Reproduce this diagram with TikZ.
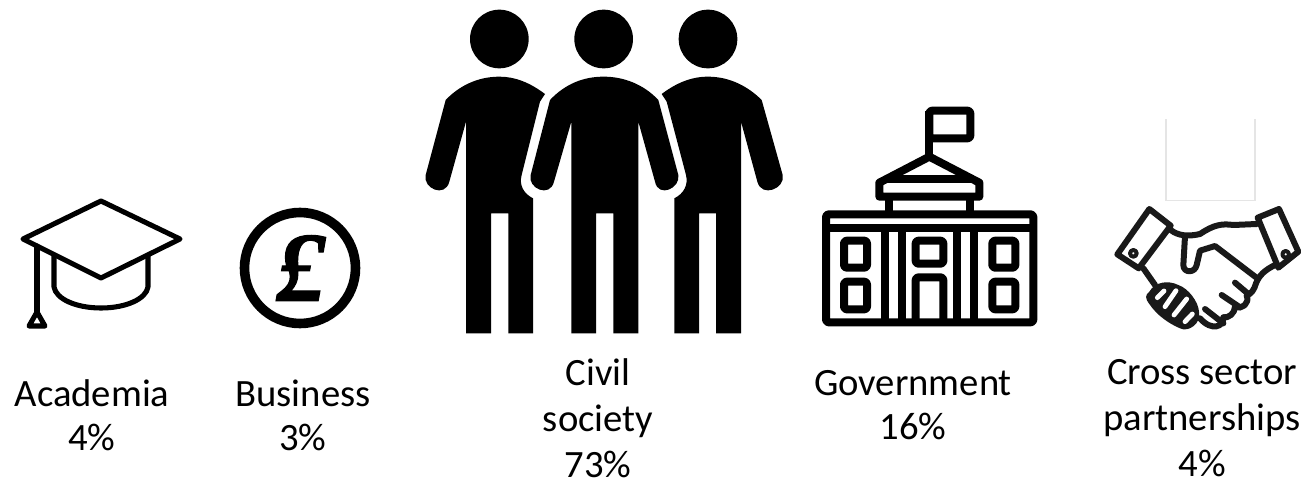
\documentclass[tikz,border=0pt]{standalone}
\usepackage{fontspec}
\setmainfont{Carlito}
\newfontfamily\poundfont[FakeBold=1.2]{Liberation Serif}
\begin{document}
\begin{tikzpicture}[x=0.75pt,y=-0.75pt,
  caption/.style={inner sep=0pt,align=center,font=\fontsize{29}{34.5}\selectfont,text=black},
  captiontwo/.style={caption,font=\fontsize{29}{33}\selectfont},
  capline/.style={draw=black,line width=3.8pt,line join=round,line cap=round},
  govline/.style={draw=black,line width=6pt,line join=round},
  shakeline/.style={draw=black!90,line width=4.5pt,line join=round,line cap=round},
  slit/.style={draw=white,line width=3.6pt,line cap=round},
  person/.style={fill=black},
  zoomed/.style={x=0.25pt,y=-0.25pt}]
\useasboundingbox (0,0) rectangle (1301,478);
% mortarboard
\begin{scope}[capline]
\draw (23,239) -- (101,201) -- (180,239) -- (101,278) -- cycle;
\draw (54,256) -- (54,287) .. controls (56,299) and (76,308) .. (101,308) .. controls (126,308) and (146,299) .. (148,287) -- (148,256);
\draw (37,246) -- (37,312);
\draw (37,312) -- (29,326) -- (45,326) -- cycle;
\end{scope}
% pound coin
\node[circle,draw=black,line width=7.2pt,minimum size=111*0.75pt,inner sep=0pt] (coin) at (300,268) {};
\node[inner sep=0pt,font=\poundfont\bfseries\itshape\fontsize{74}{74}\selectfont] (pound) at (301,268) {£};
% people
\begin{scope}[shift={(410,0)},zoomed]
\foreach \cx in {268,581,894}
  \fill (\cx,117) circle (88);
\fill[person] (405,282) .. controls (360,248) and (315,230) .. (268,230) .. controls (200,230) and (145,260) .. (107,300)
  -- (47,525) .. controls (38,565) and (105,595) .. (118,545) -- (168,365) -- (168,1000) -- (243,1000) -- (243,640) -- (295,640) -- (295,1000) -- (369,1000) -- (369,595)
  .. controls (340,580) and (327,555) .. (335,525) -- (390,305) -- cycle;
\fill[person] (420,300) .. controls (465,252) and (520,230) .. (581,230) .. controls (640,230) and (700,252) .. (745,300)
  -- (805,525) .. controls (812,565) and (745,595) .. (735,545) -- (685,365) -- (685,1000) -- (610,1000) -- (610,640) -- (558,640) -- (558,1000) -- (484,1000) -- (484,365)
  -- (432,545) .. controls (420,595) and (352,565) .. (362,525) -- cycle;
\fill[person] (755,282) .. controls (800,248) and (845,230) .. (894,230) .. controls (960,230) and (1015,260) .. (1055,300)
  -- (1118,525) .. controls (1127,565) and (1055,595) .. (1042,545) -- (993,365) -- (993,1000) -- (918,1000) -- (918,640) -- (867,640) -- (867,1000) -- (793,1000) -- (793,595)
  .. controls (822,580) and (835,555) .. (828,525) -- (770,305) -- cycle;
\end{scope}
% government building
\begin{scope}[shift={(810,100)},zoomed]
\draw[govline,rounded corners=2pt] (48,343) rectangle (670,667);
\draw[govline] (48,384) -- (670,384);
\foreach \vx in {224,277,440,492} \draw[govline] (\vx,384) -- (\vx,667);
\draw[govline,rounded corners=2pt] (102,422) rectangle (171,503);
\draw[govline,rounded corners=2pt] (102,545) rectangle (171,628);
\draw[govline,rounded corners=2pt] (547,422) rectangle (616,503);
\draw[govline,rounded corners=2pt] (547,545) rectangle (616,628);
\draw[govline,rounded corners=2pt] (317,422) rectangle (400,491);
\draw[govline,rounded corners=2pt] (317,667) -- (317,532) -- (400,532) -- (400,667);
\draw[govline] (237,295) -- (237,343);
\draw[govline] (480,295) -- (480,343);
\draw[govline] (208,290) -- (208,248) -- (358,170) -- (508,248) -- (508,290) -- cycle;
\draw[govline] (235,236) -- (482,236);
\draw[govline] (358,170) -- (358,32);
\draw[govline,rounded corners=2pt] (358,32) rectangle (481,115);
\end{scope}
% handshake
\begin{scope}[shift={(1100,110)},zoomed]
\draw[draw=black!10,line width=1pt] (198,27) -- (198,272) -- (465,272) -- (465,27);
\begin{scope}[shakeline]
\draw (148,297) -- (212,347) -- (116,475) -- (52,433) -- cycle;
\draw (473,323) -- (537,297) -- (595,425) -- (535,473) -- cycle;
\draw[line width=3pt] (100,430) circle (10);
\draw[line width=3pt] (557,433) circle (10);
\draw (212,360) .. controls (235,378) and (265,380) .. (300,372) .. controls (340,345) and (365,340) .. (400,345) -- (470,342);
\draw (255,378) -- (250,465) .. controls (250,490) and (285,490) .. (290,465) -- (300,422) -- (345,408) -- (468,502);
\draw (525,465) .. controls (495,480) and (478,495) .. (468,520) .. controls (462,540) and (455,550) .. (440,557);
\draw (405,518) -- (445,552);
\draw (365,555) -- (420,592);
\draw (440,557) .. controls (450,580) and (425,600) .. (405,590);
\draw (315,597) -- (370,640);
\draw (405,590) .. controls (405,610) and (385,625) .. (370,622);
\draw (370,622) .. controls (372,650) and (335,665) .. (300,625);
\draw (130,475) -- (165,525);
\end{scope}
\fill[black!90] (148,545) .. controls (165,515) and (205,510) .. (235,525) .. controls (265,535) and (295,575) .. (297,605) .. controls (305,640) and (265,668) .. (240,655) .. controls (205,640) and (170,615) .. (148,582) .. controls (135,565) and (135,555) .. (148,545) -- cycle;
\draw[slit] (172,563) -- (192,543);
\draw[slit] (195,590) -- (228,542);
\draw[slit] (222,615) -- (260,567);
\draw[slit] (255,635) -- (277,612);
\end{scope}
% captions
\node[captiontwo] (academia) at (92,415) {Academia\\4\%};
\node[captiontwo] (business) at (303,415) {Business\\3\%};
\node[caption] (civil) at (598,418) {Civil\\society\\73\%};
\node[captiontwo] (government) at (913,405) {Government\\16\%};
\node[caption] (cross) at (1202,418) {Cross sector\\partnerships\\4\%};
\end{tikzpicture}
\end{document}
